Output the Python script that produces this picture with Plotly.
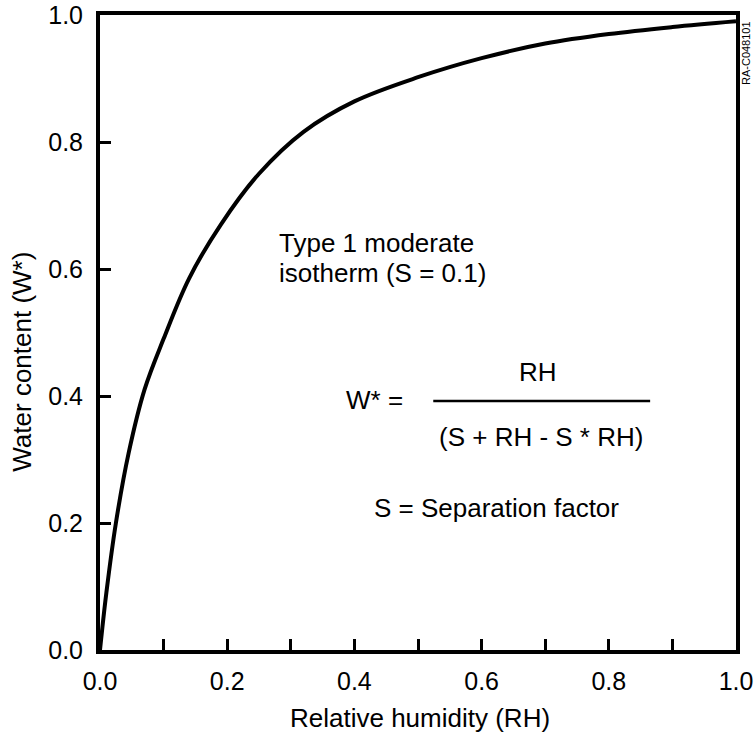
import plotly.graph_objects as go

# Curve (Type 1 moderate isotherm, S = 0.1)
rh_values = [0.0, 0.01, 0.025, 0.045, 0.07, 0.1, 0.14, 0.19, 0.25, 0.32,
             0.4, 0.5, 0.6, 0.7, 0.8, 0.9, 1.0]
w_values = [0.0, 0.09, 0.2, 0.31, 0.41, 0.49, 0.585, 0.67, 0.75, 0.816,
            0.864, 0.902, 0.932, 0.955, 0.970, 0.981, 0.99]

x_tick_vals = [0.0, 0.1, 0.2, 0.3, 0.4, 0.5, 0.6, 0.7, 0.8, 0.9, 1.0]
x_tick_text = ["0.0", "", "0.2", "", "0.4", "", "0.6", "", "0.8", "", "1.0"]
y_tick_vals = [0.0, 0.2, 0.4, 0.6, 0.8, 1.0]
y_tick_text = ["0.0", "0.2", "0.4", "0.6", "0.8", "1.0"]

FONT = "Liberation Sans, Arial, Helvetica, sans-serif"
TICK_FS = 25
TEXT_FS = 26

fig = go.Figure()
fig.add_trace(go.Scatter(x=rh_values, y=w_values, mode="lines",
                         line=dict(color="black", width=4, shape="spline", smoothing=1.0),
                         showlegend=False, hoverinfo="skip"))

axis_common = dict(range=[0, 1], showgrid=False, zeroline=False, showline=True,
                   linecolor="black", linewidth=4, mirror=True, automargin=False,
                   ticks="inside", ticklen=11, tickwidth=3, tickcolor="black",
                   tickfont=dict(family=FONT, size=TICK_FS, color="black"))

fig.update_layout(
    width=755, height=733,
    margin=dict(l=100, r=19, t=15, b=83),
    paper_bgcolor="white", plot_bgcolor="white",
    font=dict(family=FONT, size=TEXT_FS, color="black"),
    xaxis=dict(**axis_common, tickmode="array", tickvals=x_tick_vals, ticktext=x_tick_text,
               ticklabelstandoff=6),
    yaxis=dict(**axis_common, tickmode="array", tickvals=y_tick_vals, ticktext=y_tick_text,
               ticklabelstandoff=8),
)

def ann(text, x, y, xanchor="center"):
    fig.add_annotation(text=text, x=x, y=y, xref="x", yref="y", showarrow=False,
                       xanchor=xanchor, yanchor="middle",
                       font=dict(family=FONT, size=TEXT_FS, color="black"))

ann("Type 1 moderate", 0.278, 0.641, "left")
ann("isotherm (S = 0.1)", 0.278, 0.593, "left")
ann("W* =", 0.432, 0.394)
ann("RH", 0.689, 0.438)
ann("(S + RH - S * RH)", 0.693, 0.335)
ann("S = Separation factor", 0.624, 0.224)

# axis titles
fig.add_annotation(text="Relative humidity (RH)", xref="paper", yref="paper",
                   x=0.503, y=-0.107, showarrow=False, xanchor="center", yanchor="middle",
                   font=dict(family=FONT, size=TEXT_FS, color="black"))
fig.add_annotation(text="Water content (W*)", xref="paper", yref="paper",
                   x=0, y=0.454, xshift=-78, showarrow=False, textangle=-90,
                   xanchor="center", yanchor="middle",
                   font=dict(family=FONT, size=TEXT_FS, color="black"))

fig.add_shape(type="line", xref="x", yref="y", x0=0.524, x1=0.865, y0=0.392, y1=0.392,
              line=dict(color="black", width=2.5))

fig.add_annotation(text="RA-C048101", xref="paper", yref="paper", x=1.0, y=1.0,
                   xanchor="left", yanchor="top", xshift=2, yshift=-4,
                   showarrow=False, textangle=-90,
                   font=dict(family=FONT, size=11, color="black"))

fig.write_html("out.html", config={"displayModeBar": False},
               post_script="document.body.style.margin='0';")
